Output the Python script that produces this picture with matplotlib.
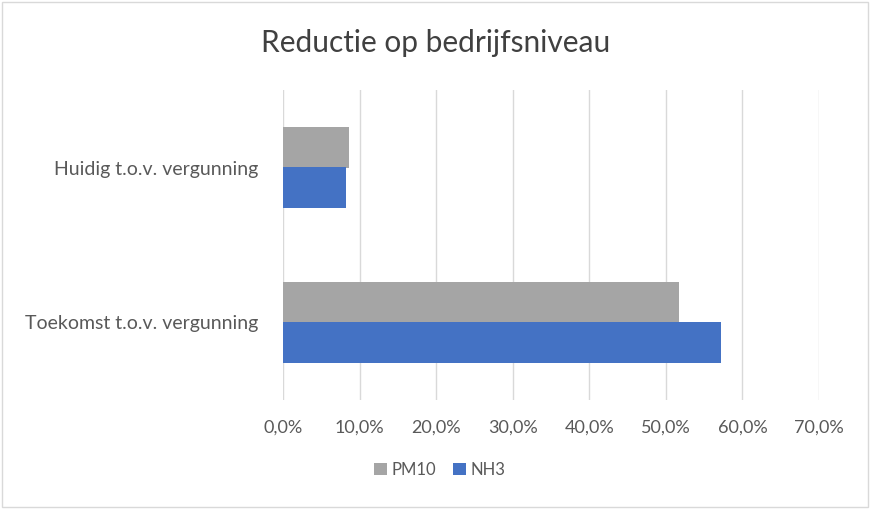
import matplotlib.pyplot as plt
import numpy as np
from matplotlib.ticker import FuncFormatter

plt.rcParams['font.family'] = ['Lato', 'DejaVu Sans']

categories = ["Toekomst t.o.v. vergunning", "Huidig t.o.v. vergunning"]
pm10 = [0.517, 0.086]
nh3 = [0.572, 0.082]
series_names = ["PM10", "NH3"]
colors = ["#A5A5A5", "#4472C4"]
txt = "#595959"

fig = plt.figure(figsize=(8.71, 5.09), dpi=100)
ax = fig.add_axes([283/871, 1-400/509, (819-283)/871, 310/509])

y = np.arange(len(categories))
h = 0.26
ax.barh(y + h/2, pm10, height=h, color=colors[0], label=series_names[0])
ax.barh(y - h/2, nh3, height=h, color=colors[1], label=series_names[1])

ax.set_xlim(0, 0.7)
ax.set_ylim(-0.5, 1.5)
ax.set_xticks(np.arange(0, 0.71, 0.1))
ax.xaxis.set_major_formatter(FuncFormatter(lambda v, p: ("%.1f%%" % (v*100)).replace(".", ",")))
ax.set_yticks(y)
ax.set_yticklabels(categories)
ax.grid(axis="x", color="#D9D9D9", lw=1)
ax.set_axisbelow(True)
for s in ax.spines.values():
    s.set_visible(False)
ax.tick_params(length=0, colors=txt)
ax.tick_params(axis="x", pad=14, labelsize=13)
ax.tick_params(axis="y", pad=18, labelsize=14)

fig.text(0.5, 1-43/509, "Reductie op bedrijfsniveau", ha="center", va="center",
         fontsize=21.5, color="#404040")

handles, labels = ax.get_legend_handles_labels()
fig.legend(handles, labels, loc="center", bbox_to_anchor=(440/871, 1-470/509), ncol=2,
           frameon=False, fontsize=12, labelcolor=txt, handlelength=0.75, handleheight=0.75,
           handletextpad=0.3, columnspacing=1.0)

fig.patches.append(plt.Rectangle((0.002, 0.003), 0.995, 0.993, transform=fig.transFigure,
                                 fill=False, edgecolor="#D9D9D9", lw=1))

plt.savefig("out.png", dpi=100)
